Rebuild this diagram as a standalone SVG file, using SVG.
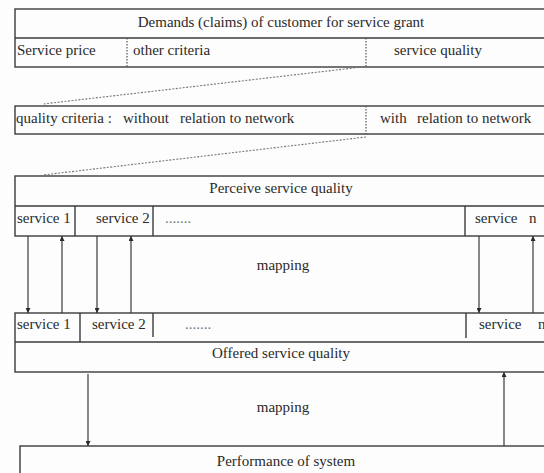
<svg xmlns="http://www.w3.org/2000/svg" width="544" height="473" viewBox="0 0 544 473">
  <style>
    .box { fill: #fdfdfd; stroke: #3a3a3a; stroke-width: 1.4; }
    .ln { stroke: #3a3a3a; stroke-width: 1.4; fill: none; }
    .dv { stroke: #555; stroke-width: 1.2; stroke-dasharray: 1.5 1.5; fill: none; }
    .dg { stroke: #777; stroke-width: 1.1; stroke-dasharray: 2 1.5; fill: none; }
    .ar { stroke: #3a3a3a; stroke-width: 1.2; fill: none; marker-end: url(#head); }
    text { font-family: "Liberation Serif", "Times New Roman", serif; font-size: 15px; fill: #2a2a2a; }
    .mid { text-anchor: middle; }
    .dots { fill: #777; }
  </style>
  <defs>
    <marker id="head" viewBox="0 0 10 10" refX="10" refY="5" markerWidth="5" markerHeight="5" orient="auto" markerUnits="userSpaceOnUse">
      <path d="M0,0 L10,5 L0,10 Z" fill="#2a2a2a"/>
    </marker>
  </defs>
  <rect width="544" height="473" fill="#fdfdfd"/>

  <!-- customer demands -->
  <g id="demands">
    <rect class="box" x="15" y="9" width="540" height="58"/>
    <line class="ln" x1="15" y1="38" x2="555" y2="38"/>
    <line class="dv" x1="127" y1="38" x2="127" y2="67"/>
    <line class="dv" x1="366" y1="38" x2="366" y2="67"/>
    <text class="mid" x="281" y="27">Demands (claims) of customer for service grant</text>
    <text x="17" y="55">Service price</text>
    <text x="133" y="55">other criteria</text>
    <text x="394" y="55">service quality</text>
  </g>

  <!-- quality criteria -->
  <g id="criteria">
    <rect class="box" x="15" y="106" width="540" height="28"/>
    <line class="dv" x1="366" y1="106" x2="366" y2="134"/>
    <text y="123"><tspan x="16">quality criteria :</tspan><tspan x="123">without</tspan><tspan x="180">relation to network</tspan></text>
    <text y="123"><tspan x="380">with</tspan><tspan x="417">relation to network</tspan></text>
  </g>

  <!-- perceived service quality -->
  <g id="perceived">
    <rect class="box" x="15" y="176" width="540" height="60"/>
    <line class="ln" x1="15" y1="206" x2="555" y2="206"/>
    <line class="ln" x1="75" y1="206" x2="75" y2="236"/>
    <line class="ln" x1="153" y1="206" x2="153" y2="236"/>
    <line class="ln" x1="465" y1="206" x2="465" y2="236"/>
    <text class="mid" x="281" y="193">Perceive service quality</text>
    <text x="17" y="223">service 1</text>
    <text x="96" y="223">service 2</text>
    <text class="dots" x="165" y="223">.......</text>
    <text y="223"><tspan x="475">service</tspan><tspan x="529">n</tspan></text>
  </g>

  <!-- offered service quality -->
  <g id="offered">
    <rect class="box" x="15" y="313" width="540" height="59"/>
    <line class="ln" x1="15" y1="342" x2="555" y2="342"/>
    <line class="ln" x1="80" y1="313" x2="80" y2="342"/>
    <line class="ln" x1="153" y1="313" x2="153" y2="337"/>
    <line class="ln" x1="466" y1="313" x2="466" y2="338"/>
    <text x="17" y="329">service 1</text>
    <text x="92" y="329">service 2</text>
    <text class="dots" x="185" y="329">.......</text>
    <text y="329"><tspan x="479">service</tspan><tspan x="538">n</tspan></text>
    <text class="mid" x="281" y="358">Offered service quality</text>
  </g>

  <!-- system performance -->
  <g id="performance">
    <rect class="box" x="20" y="446" width="540" height="40"/>
    <text class="mid" x="286" y="466">Performance of system</text>
  </g>

  <!-- connectors -->
  <g id="connectors">
    <line class="dg" x1="362" y1="67" x2="43" y2="104"/>
    <line class="dg" x1="366" y1="137" x2="43" y2="175"/>
    <line class="ar" x1="28" y1="236" x2="28" y2="313"/>
    <line class="ar" x1="62" y1="313" x2="62" y2="236"/>
    <line class="ar" x1="97" y1="236" x2="97" y2="313"/>
    <line class="ar" x1="131" y1="313" x2="131" y2="236"/>
    <line class="ar" x1="479" y1="236" x2="479" y2="313"/>
    <line class="ar" x1="533" y1="313" x2="533" y2="236"/>
    <line class="ar" x1="88" y1="374" x2="88" y2="446"/>
    <line class="ar" x1="504" y1="446" x2="504" y2="372"/>
    <text class="mid" x="283" y="270">mapping</text>
    <text class="mid" x="283" y="412">mapping</text>
  </g>
</svg>
